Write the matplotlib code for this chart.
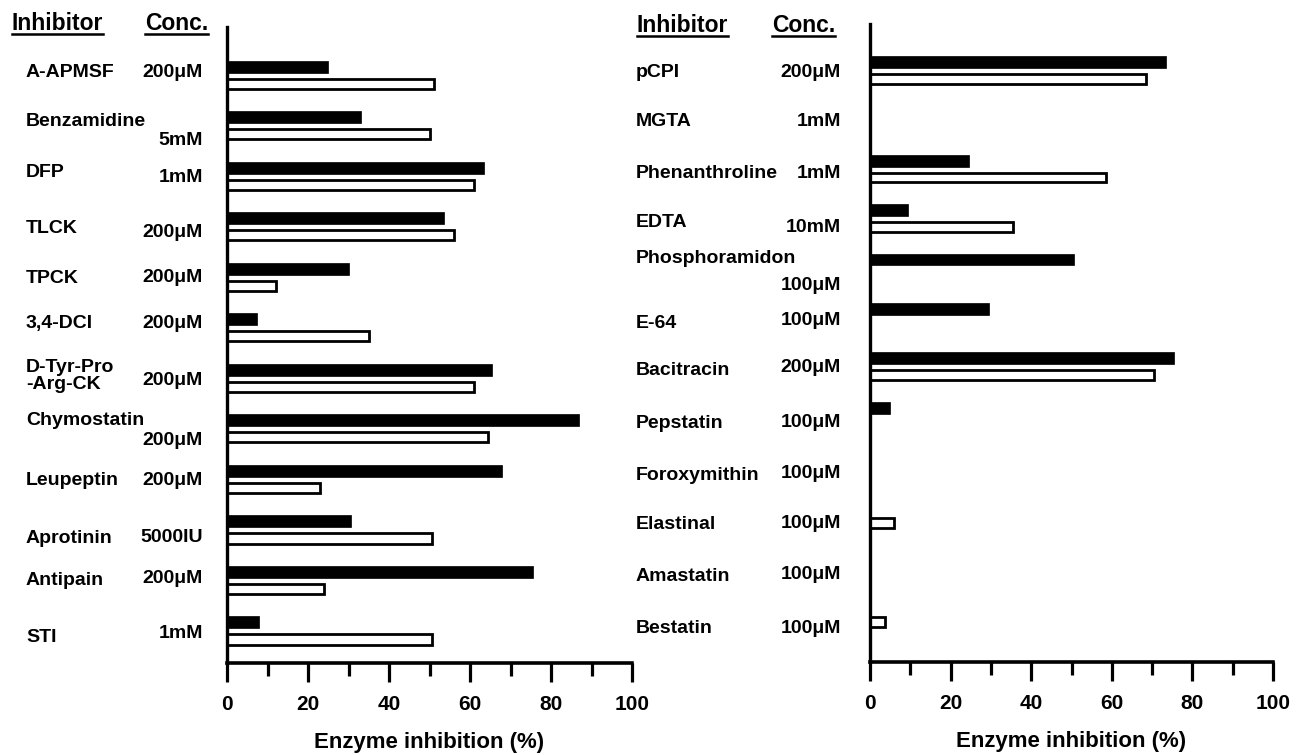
import matplotlib
matplotlib.use("Agg")
import matplotlib.pyplot as plt
import matplotlib.transforms as mtransforms
from matplotlib.lines import Line2D
import numpy as np

# ---- data ----
left_names = ["A-APMSF", "Benzamidine", "DFP", "TLCK", "TPCK", "3,4-DCI",
              "D-Tyr-Pro\n-Arg-CK", "Chymostatin", "Leupeptin", "Aprotinin",
              "Antipain", "STI"]
left_conc = ["200\u03bcM", "5mM", "1mM", "200\u03bcM", "200\u03bcM", "200\u03bcM",
             "200\u03bcM", "200\u03bcM", "200\u03bcM", "5000IU", "200\u03bcM", "1mM"]
left_black = [25, 33, 63.5, 53.5, 30, 7.5, 65.5, 87, 68, 30.5, 75.5, 8]
left_white = [51, 50, 61, 56, 12, 35, 61, 64.5, 23, 50.5, 24, 50.5]

right_names = ["pCPI", "MGTA", "Phenanthroline", "EDTA", "Phosphoramidon", "E-64",
               "Bacitracin", "Pepstatin", "Foroxymithin", "Elastinal",
               "Amastatin", "Bestatin"]
right_conc = ["200\u03bcM", "1mM", "1mM", "10mM", "100\u03bcM", "100\u03bcM",
              "200\u03bcM", "100\u03bcM", "100\u03bcM", "100\u03bcM", "100\u03bcM", "100\u03bcM"]
right_black = [73.5, 0, 24.5, 9.5, 50.5, 29.5, 75.5, 5, 0, 0, 0, 0]
right_white = [68.5, 0, 58.5, 35.5, 0, 0, 70.5, 0, 0, 6, 0, 3.8]

# label nudges (row units), the original labels are hand placed
left_name_dy = [-0.04, -0.07, -0.06, 0.03, 0.02, -0.09, -0.04, -0.17, 0.02, 0.17, 0, 0.13]
left_conc_dy = [-0.04, 0.29, 0.02, 0.11, 0, -0.09, 0.04, 0.23, 0.02, 0.15, -0.04, 0.05]
right_name_dy = [0.06, 0.05, 0.09, 0.08, -0.19, 0.13, 0.09, 0.16, 0.21, 0.19, 0.24, 0.30]
right_conc_dy = [0.06, 0.05, 0.09, 0.18, 0.36, 0.07, 0.02, 0.14, 0.17, 0.17, 0.20, 0.30]

W, H = 1301, 755
FONT = "Liberation Sans"
plt.rcParams["font.family"] = [FONT, "DejaVu Sans"]
plt.rcParams["font.weight"] = "bold"

fig = plt.figure(figsize=(W / 100, H / 100), dpi=100)


def panel(rect, ylim, names, conc, black, white, name_dy, conc_dy, name_x, conc_x):
    ax = fig.add_axes(rect)
    y = np.arange(len(names))
    black = np.array(black, dtype=float)
    white = np.array(white, dtype=float)
    mb = black > 0
    mw = white > 0
    ax.barh(y[mb] - 0.165, black[mb], height=0.24, color="black", edgecolor="black",
            linewidth=0.5, zorder=2)
    ax.barh(y[mw] + 0.175, white[mw], height=0.2, color="white", edgecolor="black",
            linewidth=2.0, zorder=2)
    ax.set_xlim(0, 100)
    ax.set_ylim(*ylim)
    for s in ["top", "right"]:
        ax.spines[s].set_visible(False)
    ax.spines["left"].set_linewidth(2.4)
    ax.spines["bottom"].set_linewidth(2.6)
    ax.spines["left"].set_zorder(3)
    ax.set_yticks([])
    ax.set_xticks(np.arange(0, 101, 20))
    ax.set_xticks(np.arange(10, 100, 20), minor=True)
    ax.tick_params(axis="x", which="major", direction="out", length=14, width=2.3,
                   pad=9, labelsize=15)
    ax.tick_params(axis="x", which="minor", direction="out", length=9, width=2.3)
    for lab in ax.get_xticklabels():
        lab.set_fontweight("bold")
    ax.set_xlabel("Enzyme inhibition (%)", fontsize=16, fontweight="bold", labelpad=13)

    trans = mtransforms.blended_transform_factory(fig.transFigure, ax.transData)
    for i in range(len(names)):
        ax.text(name_x / W, i + name_dy[i], names[i], transform=trans, ha="left",
                va="center", fontsize=14, fontweight="bold", linespacing=1.05)
        ax.text(conc_x / W, i + conc_dy[i], conc[i], transform=trans, ha="right",
                va="center", fontsize=14, fontweight="bold")
    return ax


ax1 = panel([227 / W, (H - 663) / H, 405 / W, 636 / H], (11.64, -0.95),
            left_names, left_conc, left_black, left_white,
            left_name_dy, left_conc_dy, 26, 203)
ax2 = panel([870 / W, (H - 662) / H, 403 / W, 638 / H], (11.98, -0.93),
            right_names, right_conc, right_black, right_white,
            right_name_dy, right_conc_dy, 636, 841)

# underlined column headers
headers = [("Inhibitor", 12, 23), ("Conc.", 145, 23),
           ("Inhibitor", 637, 25), ("Conc.", 772, 25)]
htexts = []
for txt, x, y in headers:
    t = fig.text(x / W, 1 - y / H, txt, ha="left", va="center", fontsize=16.5,
                 fontweight="bold")
    htexts.append(t)

fig.canvas.draw()
r = fig.canvas.get_renderer()
for t in htexts:
    bb = t.get_window_extent(r)
    yy = (bb.y0 + 1) / H
    fig.add_artist(Line2D([bb.x0 / W, bb.x1 / W], [yy, yy], transform=fig.transFigure,
                          color="black", linewidth=1.8))

fig.savefig("out.png", dpi=100)
